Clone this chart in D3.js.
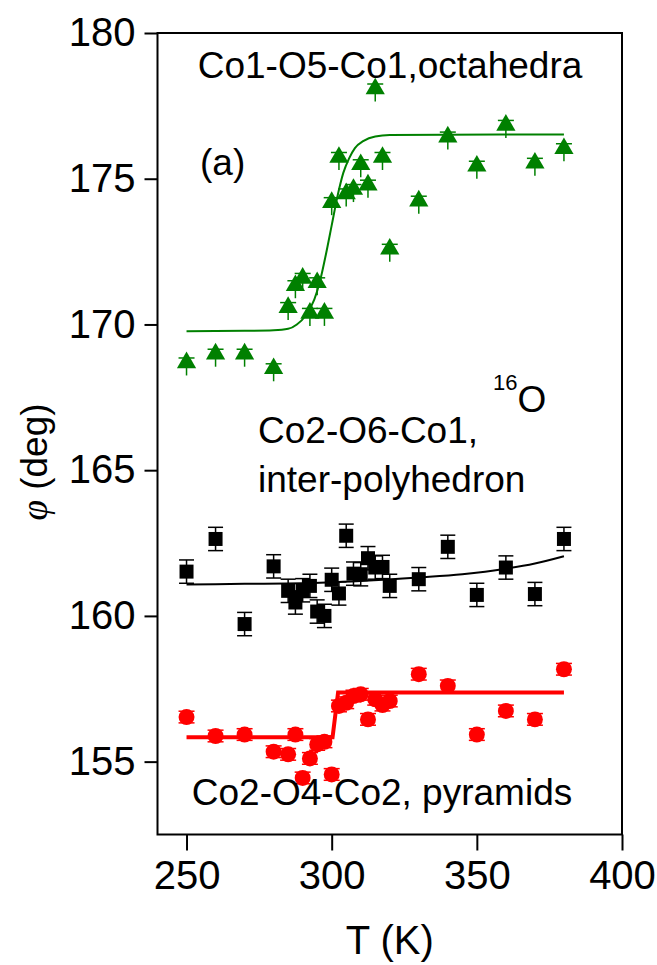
<!DOCTYPE html>
<html>
<head>
<meta charset="utf-8">
<script src="https://cdn.jsdelivr.net/npm/d3@7"></script>
<style>
  body { margin: 0; background: #fff; }
  svg text { font-family: "Liberation Sans", Arial, sans-serif; fill: #000; }
</style>
</head>
<body>
<svg id="chart" width="657" height="965"></svg>
<script>
// temperatures (K)
var temps = [250, 260, 270, 280, 285, 287.5, 290, 292.5, 295, 297.5, 300, 302.5, 305,
  307.5, 310, 312.5, 315, 317.5, 320, 330, 340, 350, 360, 370, 380];

// Co1-O5-Co1, octahedra (green triangles)
var octaValues = [168.55, 168.85, 168.85, 168.35, 170.45, 171.2, 171.45, 170.25, 171.3, 170.25,
  174.05, 175.6, 174.35, 174.5, 175.35, 174.65, 177.95, 175.6, 172.45, 174.1, 176.3,
  175.3, 176.7, 175.4, 175.9];
var octaErr = 0.3;

// Co2-O6-Co1, inter-polyhedron (black squares)
var interValues = [161.52, 162.64, 159.72, 161.7, 160.86, 160.46, 160.88, 161.03, 160.15,
  160.0, 161.24, 160.77, 162.75, 161.45, 161.43, 161.98, 161.66, 161.68, 161.03, 161.26,
  162.37, 160.72, 161.66, 160.75, 162.64];
var interErr = 0.4;

// Co2-O4-Co2, pyramids (red circles)
var pyrValues = [156.53, 155.88, 155.93, 155.34, 155.25, 155.93, 154.44, 155.11, 155.59,
  155.68, 154.56, 156.91, 157.02, 157.25, 157.31, 156.45, 157.14, 156.94, 157.08, 158.0,
  157.6, 155.93, 156.74, 156.45, 158.17];
var pyrErr = 0.2;

// fitted curves
var octaFitT = [250, 270, 280, 285, 288, 291, 294, 296, 298, 300, 302, 304, 306, 308, 311, 315, 320, 380];
var octaFitV = [169.77, 169.78, 169.8, 169.85, 170.0, 170.3, 170.85, 171.5, 172.4, 173.4,
  174.4, 175.2, 175.7, 176.05, 176.3, 176.45, 176.5, 176.52];
var interFitT = [250, 270, 290, 310, 330, 345, 360, 370, 380];
var interFitV = [161.08, 161.1, 161.12, 161.2, 161.32, 161.43, 161.62, 161.8, 162.05];
var pyrFitT = [250, 300.3, 302.2, 380];
var pyrFitV = [155.84, 155.84, 157.37, 157.37];

// axis ticks
var xMajor = [250, 300, 350, 400];
var xMinor = [240, 260, 270, 280, 290, 310, 320, 330, 340, 360, 370, 380, 390];
var yMajor = [155, 160, 165, 170, 175, 180];
var yMinor = [152.5, 157.5, 162.5, 167.5, 172.5, 177.5];

var svg = d3.select("#chart"),
  margin = { left: 157.5, top: 33, right: 35, bottom: 130.5 },
  width = +svg.attr("width"),
  height = +svg.attr("height");

var x = d3.scaleLinear().domain([240, 400]).range([margin.left, width - margin.right]);
var y = d3.scaleLinear().domain([152.5, 180]).range([height - margin.bottom, margin.top]);

var green = "#008000", red = "#ff0000";

// axes
var gx = svg.append("g").attr("transform", "translate(0," + y(152.5) + ")");
gx.call(d3.axisBottom(x).tickValues(xMinor).tickSize(8).tickFormat(""));
gx.call(d3.axisBottom(x).tickValues(xMajor).tickSize(16).tickPadding(10).tickFormat(d3.format("d")));

var gy = svg.append("g").attr("transform", "translate(" + x(240) + ",0)");
gy.call(d3.axisLeft(y).tickValues(yMinor).tickSize(7).tickFormat(""));
gy.call(d3.axisLeft(y).tickValues(yMajor).tickSize(13).tickPadding(9).tickFormat(d3.format("d")));

svg.selectAll(".domain").remove();
svg.selectAll(".tick line").attr("stroke", "#000").attr("stroke-width", 2);
svg.selectAll(".tick text").style("font-size", "40px").attr("fill", "#000");

// frame
svg.append("rect")
  .attr("x", x(240)).attr("y", y(180))
  .attr("width", x(400) - x(240)).attr("height", y(152.5) - y(180))
  .attr("fill", "none").attr("stroke", "#000").attr("stroke-width", 2);

// axis titles
svg.append("text")
  .attr("x", (x(240) + x(400)) / 2).attr("y", 954)
  .attr("text-anchor", "middle").style("font-size", "40px")
  .text("T (K)");

var yt = svg.append("text")
  .attr("transform", "translate(47,462) rotate(-90)")
  .attr("text-anchor", "middle").style("font-size", "37px");
yt.append("tspan").style("font-family", "'Liberation Serif', serif").style("font-style", "italic").text("φ");
yt.append("tspan").text(" (deg)");

// fit curves
function drawFit(ts, vs, color, w, curve) {
  var pts = ts.map(function(t, i) { return [t, vs[i]]; });
  svg.append("path")
    .datum(pts)
    .attr("fill", "none")
    .attr("stroke", color)
    .attr("stroke-width", w)
    .attr("d", d3.line().curve(curve)
      .x(function(d) { return x(d[0]); })
      .y(function(d) { return y(d[1]); }));
}

// error bars + symbols (symShift moves the glyph relative to the point, like Origin's triangle)
function drawSeries(values, err, color, symbolType, size, capTop, capBottom, symShift) {
  var rows = temps.map(function(t, i) { return { t: t, v: values[i] }; });
  var g = svg.append("g");
  var eb = g.selectAll("g.err").data(rows).enter().append("g")
    .attr("stroke", color).attr("stroke-width", 1.5);
  eb.append("line")
    .attr("x1", function(d) { return x(d.t); })
    .attr("x2", function(d) { return x(d.t); })
    .attr("y1", function(d) { return y(d.v + err); })
    .attr("y2", function(d) { return y(d.v - err); });
  [[err, capTop], [-err, capBottom]].forEach(function(c) {
    if (!c[1]) return;
    eb.append("line")
      .attr("x1", function(d) { return x(d.t) - c[1] / 2; })
      .attr("x2", function(d) { return x(d.t) + c[1] / 2; })
      .attr("y1", function(d) { return y(d.v + c[0]); })
      .attr("y2", function(d) { return y(d.v + c[0]); });
  });
  g.selectAll("path.sym").data(rows).enter().append("path")
    .attr("class", "sym")
    .attr("transform", function(d) { return "translate(" + x(d.t) + "," + (y(d.v) + symShift) + ")"; })
    .attr("d", d3.symbol().type(symbolType).size(size))
    .attr("fill", color);
}

drawSeries(octaValues, octaErr, green, d3.symbolTriangle, 160, 16, 0, -4);
drawFit(octaFitT, octaFitV, green, 2, d3.curveMonotoneX);

drawSeries(interValues, interErr, "#000", d3.symbolSquare, 196, 15, 15, 0);
drawFit(interFitT, interFitV, "#000", 2, d3.curveMonotoneX);

drawSeries(pyrValues, pyrErr, red, d3.symbolCircle, 200, 16, 16, 0);
drawFit(pyrFitT, pyrFitV, red, 4, d3.curveLinear);

// labels
function label(px, py, txt, size) {
  return svg.append("text").attr("x", px).attr("y", py)
    .style("font-size", size + "px").text(txt);
}
label(390, 78, "Co1-O5-Co1,octahedra", 37).attr("text-anchor", "middle");
label(200, 175, "(a)", 37);
label(258, 443, "Co2-O6-Co1,", 37);
label(258, 492, "inter-polyhedron", 37);
var iso = label(493, 412, "", 22);
iso.append("tspan").attr("dy", -22).text("16");
iso.append("tspan").attr("dy", 22).style("font-size", "37px").text("O");
label(382, 805, "Co2-O4-Co2, pyramids", 37).attr("text-anchor", "middle");
</script>
</body>
</html>
